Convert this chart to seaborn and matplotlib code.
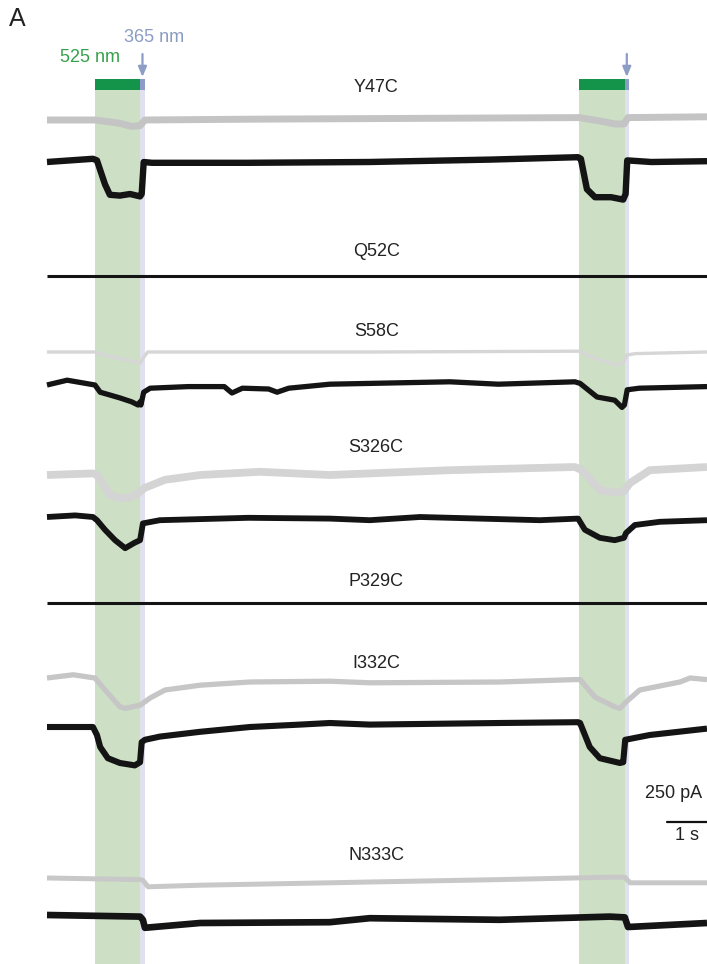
import numpy as np
import matplotlib
matplotlib.use("Agg")
import matplotlib.pyplot as plt
import seaborn as sns

sns.set_style("white")
plt.rcParams['font.family'] = ['Liberation Sans', 'DejaVu Sans']

# light protocol (s)
light_on = [1.19, 13.21]
green_dur = 1.13
uv_dur = 0.10
t_end = 16.38

# traces: time (s) and current (pA, relative to the trace baseline)
y47c_gray_t = [0, 1.19, 1.8, 2.1, 2.31, 2.43, 5, 9, 13.2, 13.7, 14.1, 14.32, 14.42, 16.38]
y47c_gray_i = [0, 0, -20, -40, -35, 0, 5, 10, 15, -5, -25, -25, 15, 20]
y47c_black_t = [0, 1.14, 1.24, 1.44, 1.56, 1.81, 2.06, 2.31, 2.35, 2.40, 2.6, 5, 8, 11,
                13.18, 13.25, 13.4, 13.6, 14.0, 14.3, 14.36, 14.40, 15, 16.38]
y47c_black_i = [0, 20, 10, -140, -205, -210, -200, -215, -200, 0, -5, -5, 0, 15,
                30, 20, -170, -220, -220, -235, -200, 10, 0, 5]

q52c_t = [0, 16.38]
q52c_i = [0, 0]

s58c_gray_t = [0, 1.19, 1.5, 2.0, 2.31, 2.38, 2.5, 8, 13.21, 13.6, 14.14, 14.3, 14.38, 14.6, 16.38]
s58c_gray_i = [0, 0, -25, -50, -70, -40, 0, 0, 5, -40, -80, -70, -20, -10, 0]
s58c_black_t = [0, 0.5, 1.19, 1.32, 1.8, 2.1, 2.26, 2.31, 2.33, 2.40, 2.56, 3.5, 4.4, 4.59,
                4.85, 5.5, 5.71, 6.0, 7.02, 8.01, 10.0, 11.2, 13.1, 13.23, 13.65, 14.09,
                14.27, 14.33, 14.40, 14.7, 16.38]
s58c_black_i = [0, 30, 0, -45, -80, -105, -125, -105, -125, -45, -20, -10, -10, -50,
                -20, -25, -45, -20, 5, 10, 20, 5, 20, 10, -75, -95,
                -140, -125, -30, -20, -10]

s326c_gray_t = [0, 1.14, 1.24, 1.56, 1.81, 2.06, 2.26, 2.43, 2.93, 3.8, 5.29, 7.02, 8.01,
                10.0, 13.1, 13.28, 13.72, 14.09, 14.32, 14.47, 14.96, 16.38]
s326c_gray_i = [0, 10, 0, -125, -145, -140, -115, -80, -30, 0, 20, 0, 10,
                30, 50, 30, -95, -110, -100, -50, 30, 50]
s326c_black_t = [0, 0.7, 1.14, 1.24, 1.44, 1.69, 1.94, 2.18, 2.31, 2.38, 2.80, 5.0, 7.02,
                 8.01, 9.26, 12.23, 13.18, 13.35, 13.72, 14.09, 14.32, 14.37, 14.59, 15.21, 16.38]
s326c_black_i = [0, 10, 0, -20, -80, -145, -195, -160, -145, -40, -20, -5, -10,
                 -20, 0, -20, -10, -80, -130, -145, -130, -100, -50, -30, -20]

p329c_t = [0, 16.38]
p329c_i = [0, 0]

i332c_gray_t = [0, 0.65, 1.19, 1.51, 1.81, 1.94, 2.31, 2.56, 2.93, 3.8, 5.04, 7.02, 8.01,
                11.24, 13.1, 13.23, 13.6, 14.09, 14.22, 14.37, 14.71, 15.71, 15.96, 16.38]
i332c_gray_i = [0, 20, 0, -95, -180, -190, -170, -125, -75, -45, -25, -20, -30,
                -25, -10, -10, -120, -180, -190, -150, -75, -25, 0, -10]
i332c_black_t = [0, 1.14, 1.24, 1.32, 1.51, 1.81, 2.18, 2.31, 2.35, 2.43, 2.80, 3.8, 5.04,
                 6.28, 7.02, 8.01, 11.24, 13.18, 13.23, 13.47, 13.72, 14.22, 14.30, 14.35,
                 14.96, 16.38]
i332c_black_i = [0, 0, -50, -125, -195, -225, -240, -220, -95, -80, -60, -30, 0,
                 15, 25, 15, 25, 30, 25, -125, -195, -225, -220, -80,
                 -50, -10]

n333c_gray_t = [0, 2.31, 2.38, 2.51, 3.8, 7.02, 8.01, 11.24, 13.97, 14.34, 14.47, 16.38]
n333c_gray_i = [0, -10, -15, -55, -45, -30, -25, -10, 5, 5, -30, -30]
n333c_black_t = [0, 2.31, 2.38, 2.43, 3.8, 7.02, 8.01, 11.24, 13.97, 14.34, 14.42, 16.38]
n333c_black_i = [0, -10, -30, -80, -50, -45, -20, -30, -10, -15, -75, -50]

labels = ["Y47C", "Q52C", "S58C", "S326C", "P329C", "I332C", "N333C"]

# layout: figure is drawn in pA vertically, 6.25 pA per pixel row
PA_PER_PX = 6.25
H_PX = 964
label_rows = [88, 252, 331, 448, 581, 663, 855]

# (time, current, baseline row, color, linewidth)
traces = [
    (y47c_gray_t, y47c_gray_i, 120, "#c4c4c4", 5.0),
    (y47c_black_t, y47c_black_i, 162, "#141414", 4.6),
    (q52c_t, q52c_i, 276, "#141414", 2.2),
    (s58c_gray_t, s58c_gray_i, 352, "#d6d6d6", 2.4),
    (s58c_black_t, s58c_black_i, 385, "#141414", 3.8),
    (s326c_gray_t, s326c_gray_i, 475, "#d4d4d4", 5.6),
    (s326c_black_t, s326c_black_i, 517, "#141414", 4.2),
    (p329c_t, p329c_i, 603, "#141414", 2.2),
    (i332c_gray_t, i332c_gray_i, 678, "#c6c6c6", 3.8),
    (i332c_black_t, i332c_black_i, 727, "#141414", 4.4),
    (n333c_gray_t, n333c_gray_i, 878, "#c8c8c8", 3.6),
    (n333c_black_t, n333c_black_i, 915, "#141414", 4.8),
]


def row(py):
    return -py * PA_PER_PX


def frac(py):
    return 1 - py / H_PX


fig = plt.figure(figsize=(7.07, 9.64), dpi=100)
ax = fig.add_axes([0, 0, 1, 1])
ax.set_xlim(-47 / 40.3, t_end)
ax.set_ylim(row(H_PX), 0)
ax.axis("off")

# light stimulation shading and bars
for t0 in light_on:
    ax.axvspan(t0, t0 + green_dur, ymin=0, ymax=frac(90), color="#cddfc5", lw=0, zorder=0)
    ax.axvspan(t0 + green_dur, t0 + green_dur + uv_dur, ymin=0, ymax=frac(90),
               color="#dfe2ee", lw=0, zorder=0)
    ax.axvspan(t0, t0 + green_dur, ymin=frac(90), ymax=frac(79), color="#14934a", lw=0)
    ax.axvspan(t0 + green_dur, t0 + green_dur + uv_dur, ymin=frac(90), ymax=frac(79),
               color="#8c9cc6", lw=0)
    tx = t0 + green_dur + uv_dur / 2
    ax.annotate("", xy=(tx, row(77)), xytext=(tx, row(54)),
                arrowprops=dict(arrowstyle="-|>,head_length=0.6,head_width=0.25",
                                color="#8d9dc6", lw=1.6, shrinkA=0, shrinkB=0))

for t, i, base, c, lw in traces:
    sns.lineplot(x=t, y=np.array(i) + row(base), ax=ax, color=c, lw=lw,
                 solid_joinstyle="round", solid_capstyle="butt", zorder=2)

for name, r in zip(labels, label_rows):
    ax.text(8.17, row(r), name, ha="center", va="center", fontsize=13, color="#222222")

ax.text(-0.74, row(19), "A", ha="center", va="center", fontsize=18, color="#222222")
ax.text(1.07, row(57), "525 nm", ha="center", va="center", fontsize=13, color="#36a04c")
ax.text(2.66, row(37), "365 nm", ha="center", va="center", fontsize=13, color="#8b9cc4")

# scale bar
sb_t0 = t_end - 1.0
ax.plot([sb_t0, t_end], [row(822), row(822)], color="#111111", lw=1.6)
ax.text(sb_t0 + 0.5, row(836), "1 s", ha="center", va="center", fontsize=13, color="#222222")
ax.text(16.25, row(794), "250 pA", ha="right", va="center", fontsize=13, color="#222222")

fig.savefig("out.png", dpi=100)
